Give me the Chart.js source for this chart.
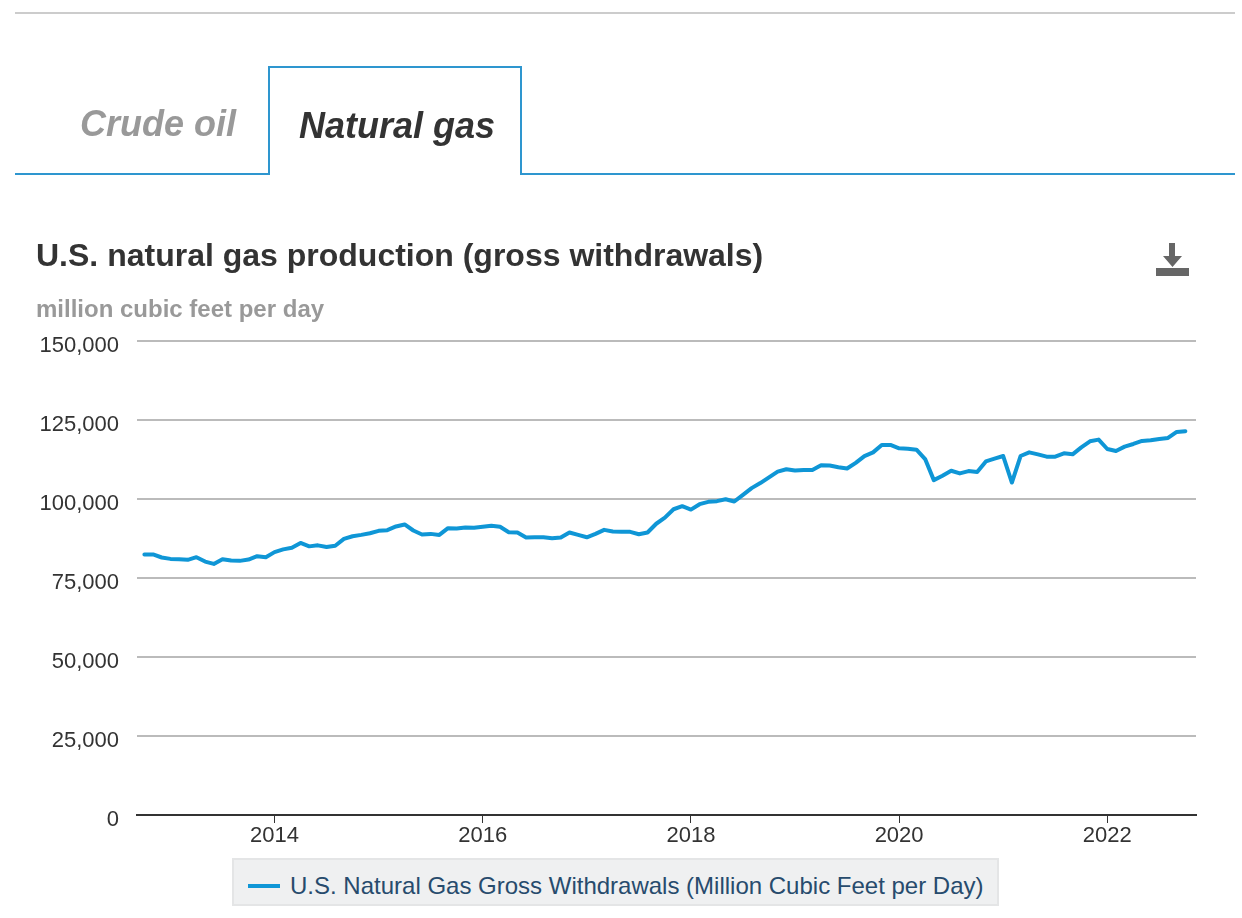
<!DOCTYPE html>
<html>
    <head>
        <title>U.S. natural gas production</title>
        <meta charset="UTF-8">
        <script src="https://cdn.jsdelivr.net/npm/chart.js@4"></script>
        <style>
            html, body { margin: 0; background: #fff; }
            body { width: 1242px; height: 918px; position: relative; overflow: hidden; font-family: "Liberation Sans", Arial, sans-serif; }
            #chart { position: absolute; left: 0; top: 0; }
            .abs { position: absolute; white-space: nowrap; }
            .rule { background: #2e96cf; height: 2px; }
            #topline { left: 15px; top: 12px; width: 1220px; height: 2px; background: #ccc; }
            #tab-line-left { left: 15px; top: 173px; width: 255px; }
            #tab-line-right { left: 520px; top: 173px; width: 715px; }
            #tab-active { left: 268px; top: 66px; width: 250px; height: 107px; border: 2px solid #2e96cf; border-bottom: 0; background: #fff; }
            .tab { font-size: 36px; font-weight: bold; font-style: italic; }
            #tab-oil { left: 80px; top: 103px; color: #999; }
            #tab-gas { left: 299px; top: 105px; color: #333; }
            #title { left: 36px; top: 237px; font-size: 32px; font-weight: bold; color: #333; }
            #unit { left: 36px; top: 295px; font-size: 24px; font-weight: bold; color: #999; }
            #icon { left: 1155px; top: 243px; }
            #legend { left: 232px; top: 858px; width: 763px; height: 44px; background: #eff0f1; border: 2px solid #e4e5e6; }
            #legend-key { left: 14px; top: 24px; width: 32px; height: 4px; background: #0f96d6; }
            #legend-text { left: 56px; top: 12px; font-size: 24px; color: #274b6d; }
        </style>
    </head>
    <body>
        <canvas id="chart" width="1242" height="918"></canvas>

        <div class="abs" id="topline"></div>
        <div class="abs rule" id="tab-line-left"></div>
        <div class="abs rule" id="tab-line-right"></div>
        <div class="abs" id="tab-active"></div>
        <div class="abs tab" id="tab-oil">Crude oil</div>
        <div class="abs tab" id="tab-gas">Natural gas</div>
        <div class="abs" id="title">U.S. natural gas production (gross withdrawals)</div>
        <div class="abs" id="unit">million cubic feet per day</div>
        <svg class="abs" id="icon" width="36" height="34" viewBox="0 0 36 34">
            <path d="M14 0h6v13h7L17.5 24 8 13h6z M1 25h33v8H1z" fill="#666"/>
        </svg>
        <div class="abs" id="legend">
            <div class="abs" id="legend-key"></div>
            <div class="abs" id="legend-text">U.S. Natural Gas Gross Withdrawals (Million Cubic Feet per Day)</div>
        </div>

        <script>
            // monthly values, first point is October 2012
            var firstYear = 2012;
            var firstMonth = 9;
            var gasValues = [
                82450, 82450, 81490, 81050, 80950, 80740, 81590, 80200, 79450, 80950, 80520, 80420, 80840, 81910, 81590,
                83190, 84050, 84580, 86080, 85010, 85330, 84800, 85220, 87360, 88210, 88640, 89170,
                89920, 90140, 91310, 91950, 90030, 88750, 88960, 88640, 90780, 90670, 90990, 90880,
                91200, 91520, 91200, 89500, 89390, 87790, 87890, 87890, 87570, 87790, 89390, 88640, 87890,
                88960, 90240, 89710, 89600, 89600, 88850, 89390, 92170, 94090, 96760, 97720,
                96650, 98360, 99110, 99320, 99920, 99210, 101310, 103440, 105040, 106860, 108680, 109420,
                109000, 109210, 109210, 110700, 110600, 110060, 109640, 111450, 113590, 114760, 117100, 117100,
                116040, 115930, 115610, 112640, 105970, 107340, 108930, 108090, 108830, 108510, 111900, 112750, 113600,
                105220, 113600, 114760, 114130, 113390, 113390, 114450, 114130, 116350, 118260, 118790, 115820,
                115190, 116570, 117410, 118370, 118580, 119000, 119320, 121230, 121440
            ];
            var yearTicks = [2014, 2016, 2018, 2020, 2022];
            var valueTicks = [0, 25000, 50000, 75000, 100000, 125000, 150000];
            var seriesName = 'U.S. Natural Gas Gross Withdrawals (Million Cubic Feet per Day)';

            var points = [];
            for (var i = 0; i < gasValues.length; i++) {
                points.push({x: firstYear + (firstMonth + i) / 12, y: gasValues[i]});
            }

            new Chart(document.getElementById('chart'), {
                type: 'line',
                data: {
                    datasets: [{
                            label: seriesName,
                            data: points,
                            borderColor: '#0f96d6',
                            borderWidth: 4,
                            pointRadius: 0,
                            tension: 0,
                            borderCapStyle: 'round',
                            borderJoinStyle: 'round'
                        }]
                },
                options: {
                    responsive: false,
                    animation: false,
                    layout: {padding: {top: 341, right: 46}},
                    plugins: {legend: {display: false}, tooltip: {enabled: false}},
                    scales: {
                        x: {
                            type: 'linear',
                            min: 2012.679,
                            max: 2022.852,
                            afterFit: function (scale) { scale.height = 103; },
                            afterBuildTicks: function (scale) {
                                scale.ticks = yearTicks.map(function (v) { return {value: v}; });
                            },
                            border: {color: '#333', width: 2},
                            grid: {drawOnChartArea: false, color: '#333', tickLength: 8, lineWidth: 1},
                            ticks: {
                                color: '#333',
                                font: {family: '"Liberation Sans"', size: 22},
                                padding: 0,
                                maxRotation: 0,
                                callback: function (v) { return String(v); }
                            }
                        },
                        y: {
                            min: 0,
                            max: 150000,
                            afterFit: function (scale) { scale.width = 137; },
                            afterBuildTicks: function (scale) {
                                scale.ticks = valueTicks.map(function (v) { return {value: v}; });
                            },
                            border: {display: false},
                            grid: {
                                drawTicks: false,
                                lineWidth: 2,
                                color: function (ctx) { return ctx.tick.value === 0 ? 'rgba(0,0,0,0)' : '#bbb'; }
                            },
                            ticks: {
                                color: '#333',
                                font: {family: '"Liberation Sans"', size: 22},
                                padding: 18,
                                labelOffset: 5,
                                callback: function (v) { return v.toLocaleString('en-US'); }
                            }
                        }
                    }
                }
            });
        </script>
    </body>
</html>
